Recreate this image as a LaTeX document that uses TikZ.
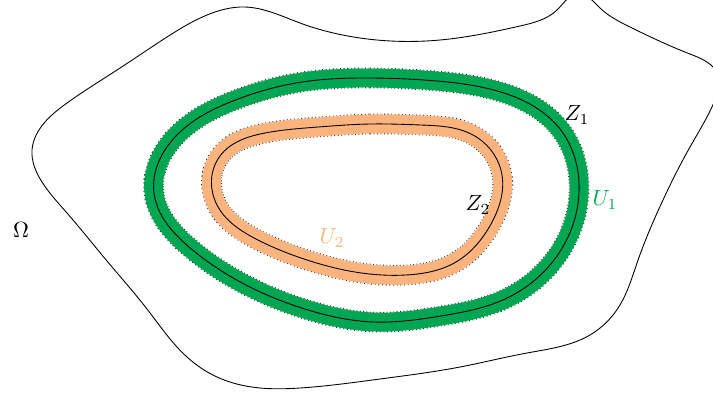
\documentclass[tikz,border=0pt]{standalone}
\usetikzlibrary{positioning,hobby}
\definecolor{zgreen}{HTML}{00A651}
\definecolor{zorange}{HTML}{FBB47E}
\tikzset{
  ring/.style={
    preaction={draw=black!85, line width=9.4pt, dash pattern=on 0.4pt off 1.2pt},
    preaction={draw=#1, line width=8.6pt}},
}

\begin{document}
\begin{tikzpicture}[x=0.016cm, y=-0.016cm]
    \useasboundingbox (0,0) rectangle (713,395);
    \clip (0,0) rectangle (713,395);

    % domain Omega
    \draw plot[closed hobby] coordinates {(245,7) (300,23) (360,38) (440,40) (520,26) (557,10) (578,-6) (600,8) (630,27) (690,54) (718,75) (715,100) (690,147) (663,200) (637,263) (620,305) (590,335) (527,353) (460,367) (380,379) (300,388) (260,388) (217,377) (187,357) (147,309) (107,261) (67,213) (42,182) (32,150) (45,122) (67,103) (117,70) (167,37) (207,15)};

    % Z_1 with U_1
    \draw[ring=zgreen] plot[closed hobby] coordinates {(370,78) (437,81) (504,93) (560,129) (579,193) (557,256) (505,299) (441,316) (374,322) (308,310) (246,285) (189,247) (154,193) (179,133) (238,99) (302,82)};

    % Z_2 with U_2
    \draw[ring=zorange] plot[closed hobby] coordinates {(370,124) (421,125) (473,135) (502,175) (491,224) (456,262) (406,275) (355,272) (304,259) (256,239) (217,205) (220,156) (265,133) (318,127)};

    % labels
    \node (omega) at (21,230) {$\Omega$};
    \node (z1) at (577,115) {$Z_1$};
    \node[text=zgreen] (u1) at (605,200) {$U_1$};
    \node (z2) at (478,205) {$Z_2$};
    \node[text=zorange] (u2) at (332,238) {$U_2$};
\end{tikzpicture}
\end{document}
